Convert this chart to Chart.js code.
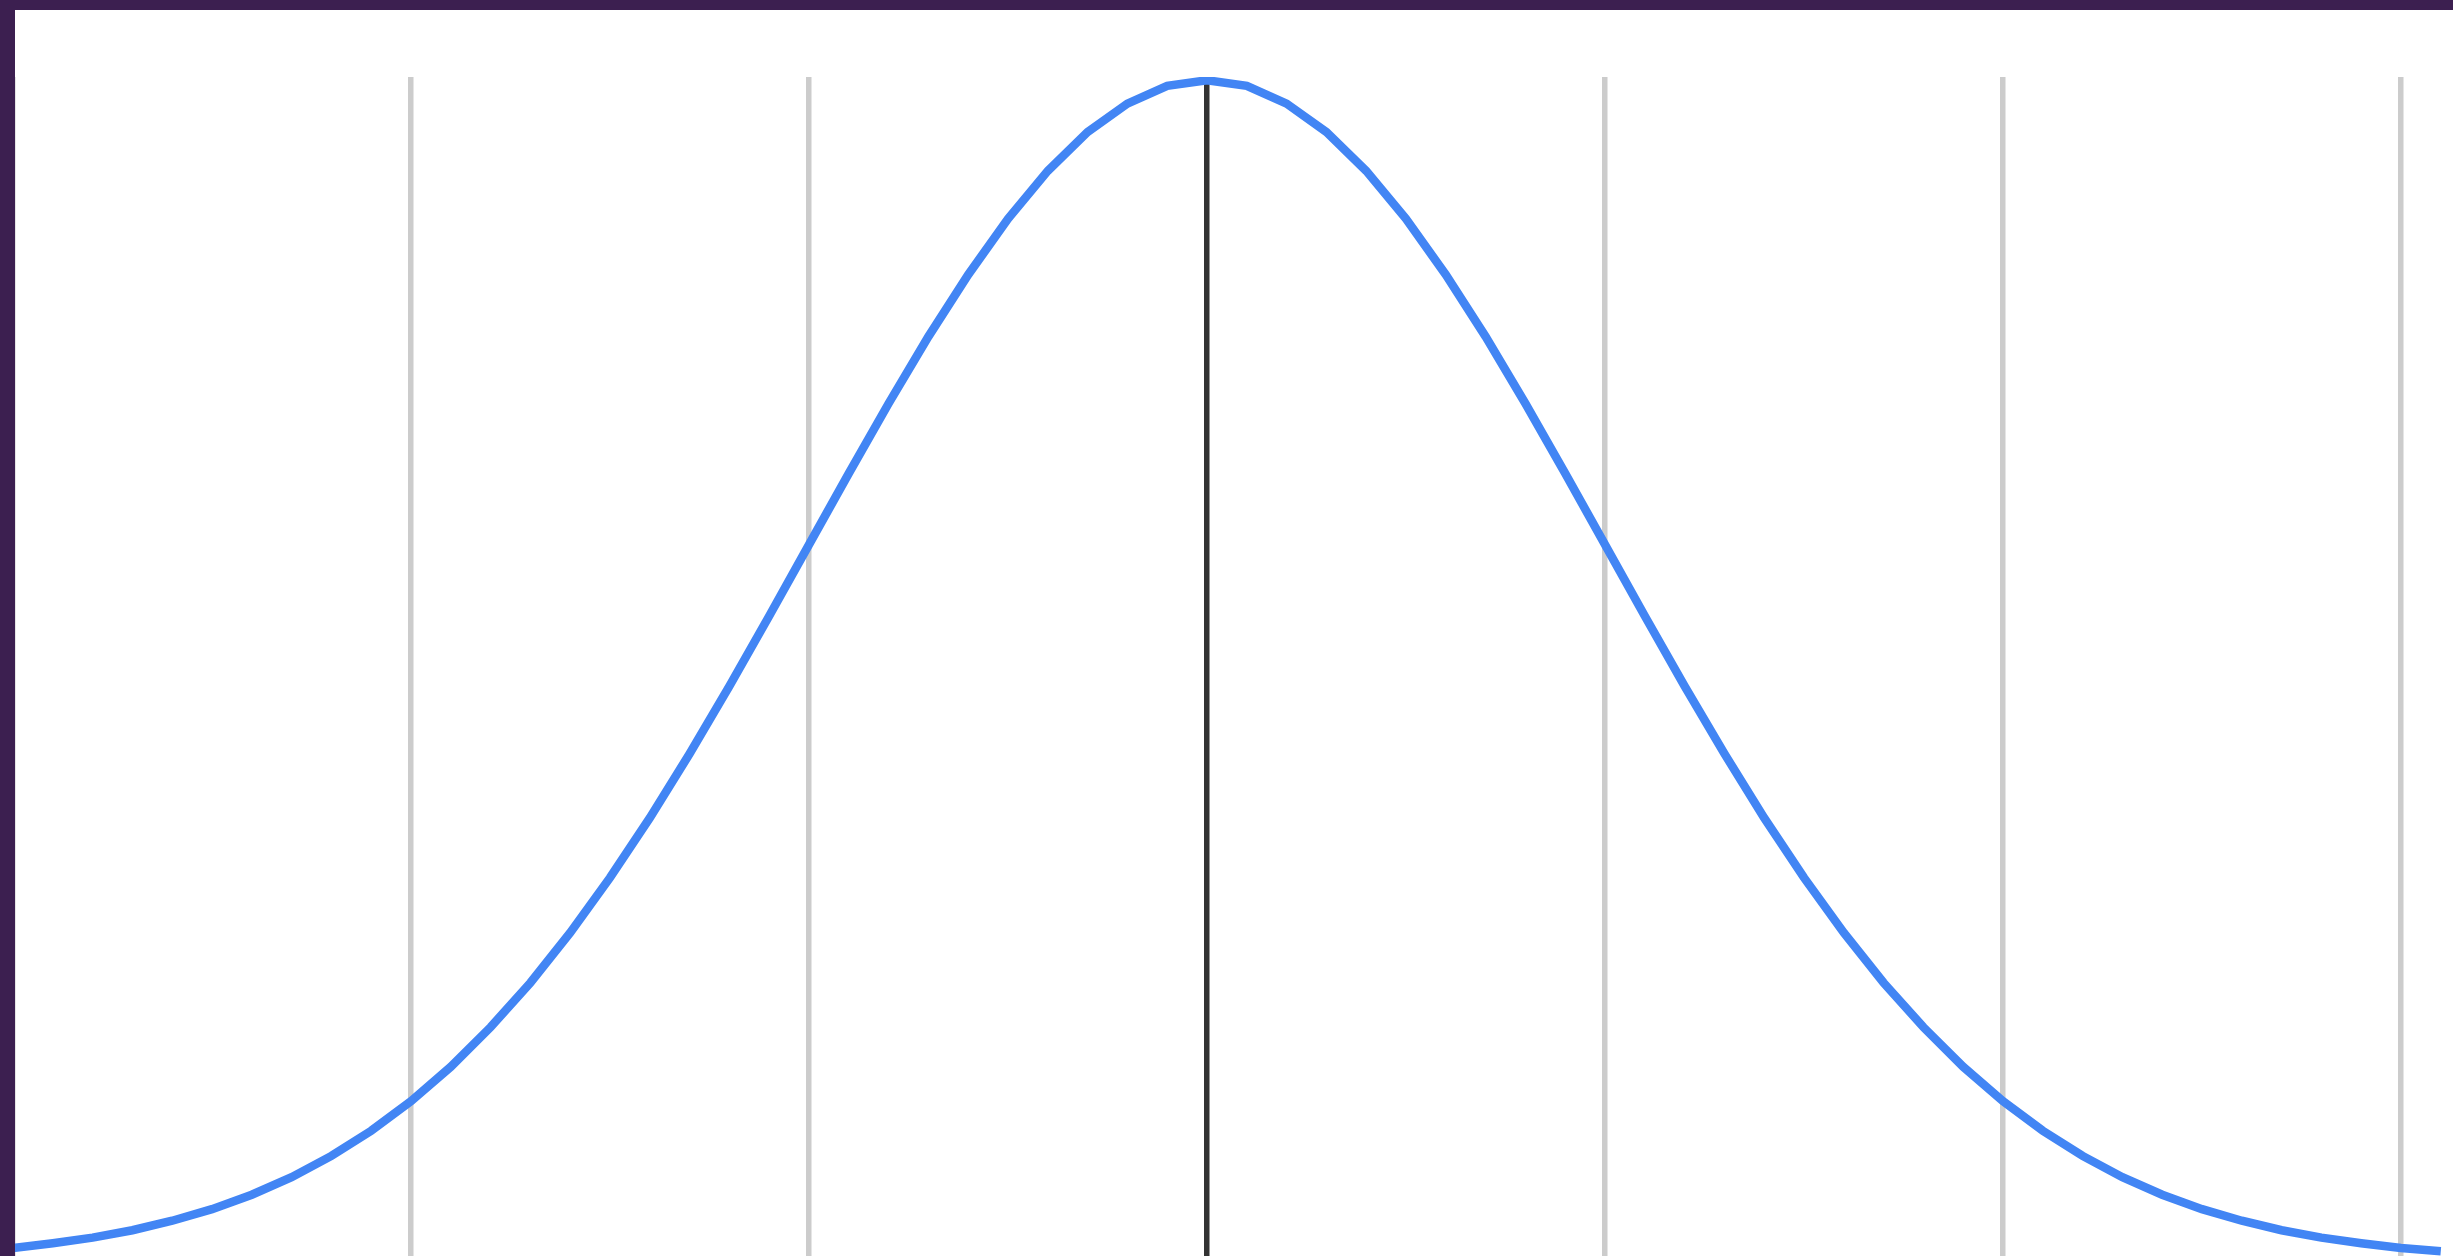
<!DOCTYPE html>
<html>
<head>
<meta charset="utf-8">
<script src="https://cdn.jsdelivr.net/npm/chart.js@4/dist/chart.umd.min.js"></script>
<style>
  html, body { margin: 0; padding: 0; width: 2453px; height: 1256px; overflow: hidden; background: #ffffff; }
  #wrap { position: absolute; left: 0; top: 0; width: 2600px; height: 1300px; background: #ffffff; }
  #c { position: absolute; left: 0; top: 0; }
  .bar { position: absolute; background: #3c1f50; z-index: 5; }
</style>
</head>
<body>
<div id="wrap"><canvas id="c" width="2600" height="1300"></canvas></div>
<div class="bar" style="left:0;top:0;width:2453px;height:10px;"></div>
<div class="bar" style="left:0;top:0;width:15px;height:1256px;"></div>
<script>
const xValues = [
  -3.0, -2.9, -2.8, -2.7, -2.6, -2.5, -2.4, -2.3, -2.2, -2.1,
  -2.0, -1.9, -1.8, -1.7, -1.6, -1.5, -1.4, -1.3, -1.2, -1.1,
  -1.0, -0.9, -0.8, -0.7, -0.6, -0.5, -0.4, -0.3, -0.2, -0.1,
   0.0,  0.1,  0.2,  0.3,  0.4,  0.5,  0.6,  0.7,  0.8,  0.9,
   1.0,  1.1,  1.2,  1.3,  1.4,  1.5,  1.6,  1.7,  1.8,  1.9,
   2.0,  2.1,  2.2,  2.3,  2.4,  2.5,  2.6,  2.7,  2.8,  2.9,
   3.0,  3.1
];
const yValues = [
  0.0044, 0.0060, 0.0079, 0.0104, 0.0136, 0.0175, 0.0224, 0.0283, 0.0355, 0.0440,
  0.0540, 0.0656, 0.0790, 0.0940, 0.1109, 0.1295, 0.1497, 0.1714, 0.1942, 0.2179,
  0.2420, 0.2661, 0.2897, 0.3123, 0.3332, 0.3521, 0.3683, 0.3814, 0.3910, 0.3970,
  0.3989, 0.3970, 0.3910, 0.3814, 0.3683, 0.3521, 0.3332, 0.3123, 0.2897, 0.2661,
  0.2420, 0.2179, 0.1942, 0.1714, 0.1497, 0.1295, 0.1109, 0.0940, 0.0790, 0.0656,
  0.0540, 0.0440, 0.0355, 0.0283, 0.0224, 0.0175, 0.0136, 0.0104, 0.0079, 0.0060,
  0.0044, 0.0033
];
const xTickValues = [-3, -2, -1, 0, 1, 2, 3];

const points = xValues.map((x, i) => ({ x: x, y: yValues[i] }));

new Chart(document.getElementById('c'), {
  type: 'line',
  data: {
    datasets: [{
      data: points,
      borderColor: '#4285f4',
      borderWidth: 8.5,
      pointRadius: 0,
      tension: 0,
      fill: false
    }]
  },
  options: {
    responsive: false,
    animation: false,
    layout: { padding: { left: 13, right: 0, top: 77, bottom: 39 } },
    plugins: { legend: { display: false }, tooltip: { enabled: false } },
    scales: {
      x: {
        type: 'linear',
        min: -3,
        max: 3.5,
        afterBuildTicks: (axis) => { axis.ticks = xTickValues.map(v => ({ value: v })); },
        ticks: { display: false },
        border: { display: false },
        grid: {
          drawTicks: false,
          lineWidth: 5.5,
          color: (ctx) => (ctx.tick && ctx.tick.value === 0) ? '#333333' : '#cccccc'
        }
      },
      y: {
        display: false,
        min: 0,
        max: 0.4
      }
    }
  }
});
</script>
</body>
</html>
